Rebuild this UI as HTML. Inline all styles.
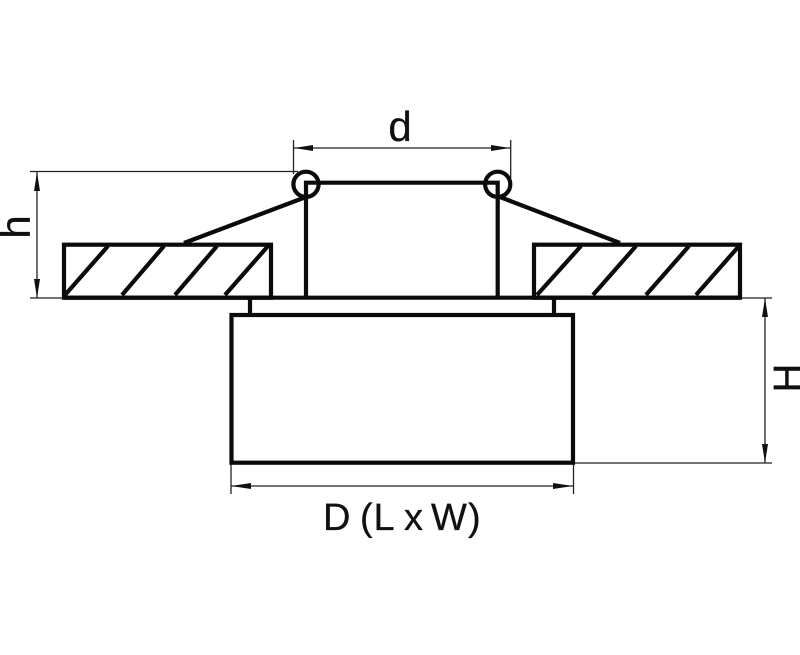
<!DOCTYPE html>
<html>
<head>
<meta charset="utf-8">
<style>
html,body{margin:0;padding:0;background:#fff;width:800px;height:655px;overflow:hidden}
svg{display:block}
text{font-family:"Liberation Sans",sans-serif;fill:#111;stroke:#111;stroke-width:.3}
</style>
</head>
<body>
<svg width="800" height="655" viewBox="0 0 800 655" xmlns="http://www.w3.org/2000/svg">
<rect width="800" height="655" fill="#fff"/>
<!-- thin dimension lines -->
<g stroke="#222" stroke-width="1.3" fill="none">
<line x1="293.5" y1="140" x2="293.5" y2="174"/>
<line x1="510.7" y1="140" x2="510.7" y2="178"/>
<line x1="294" y1="148" x2="510" y2="148"/>
<line x1="30" y1="171.5" x2="298" y2="171.5"/>
<line x1="30" y1="298" x2="64" y2="298"/>
<line x1="37" y1="172" x2="37" y2="298"/>
<line x1="741" y1="298" x2="772" y2="298"/>
<line x1="765" y1="298" x2="765" y2="463"/>
<line x1="573" y1="463" x2="772" y2="463"/>
<line x1="231" y1="464" x2="231" y2="494"/>
<line x1="573.5" y1="464" x2="573.5" y2="494"/>
<line x1="231" y1="486" x2="573" y2="486"/>
</g>
<!-- arrowheads -->
<g fill="#111">
<polygon points="294,148 313,145 313,151"/>
<polygon points="510,148 491,145 491,151"/>
<polygon points="37,172 34,191 40,191"/>
<polygon points="37,298 34,279 40,279"/>
<polygon points="765,298 762,317 768,317"/>
<polygon points="765,463 762,444 768,444"/>
<polygon points="231,486 251,483 251,489"/>
<polygon points="573,486 553,483 553,489"/>
</g>
<!-- thick geometry -->
<g stroke="#0b0b0b" stroke-width="4.2" fill="none">
<rect x="64" y="244.7" width="207" height="53"/>
<rect x="534" y="244.7" width="206" height="53"/>
<line x1="64" y1="297.7" x2="740" y2="297.7"/>
<line x1="65" y1="295" x2="108" y2="246"/>
<line x1="122" y1="295" x2="164" y2="246"/>
<line x1="175" y1="295" x2="217" y2="246"/>
<line x1="225" y1="295" x2="268" y2="246"/>
<line x1="537" y1="295" x2="581" y2="246"/>
<line x1="593" y1="295" x2="636" y2="246"/>
<line x1="646" y1="295" x2="689" y2="246"/>
<line x1="696" y1="295" x2="739" y2="246"/>
<line x1="184" y1="243" x2="306" y2="197"/>
<line x1="500" y1="197" x2="620" y2="243"/>
<polyline points="306,298 306,182.7 497.7,182.7 497.7,298"/>
<circle cx="306" cy="184.3" r="12.6"/>
<circle cx="497.7" cy="184.3" r="12.6"/>
<line x1="250" y1="298" x2="250" y2="315"/>
<line x1="554" y1="298" x2="554" y2="315"/>
<rect x="231.5" y="315" width="341.5" height="147.7"/>
</g>
<!-- labels -->
<text x="323 341 360 373.5 395 404 424 431 468" y="530" font-size="38">D (L x W)</text>
<text transform="translate(30,227) rotate(-90)" font-size="42" text-anchor="middle">h</text>
<text x="400" y="141" font-size="42" text-anchor="middle">d</text>
<text transform="translate(801,378) rotate(-90)" font-size="40" text-anchor="middle">H</text>
</svg>
</body>
</html>
